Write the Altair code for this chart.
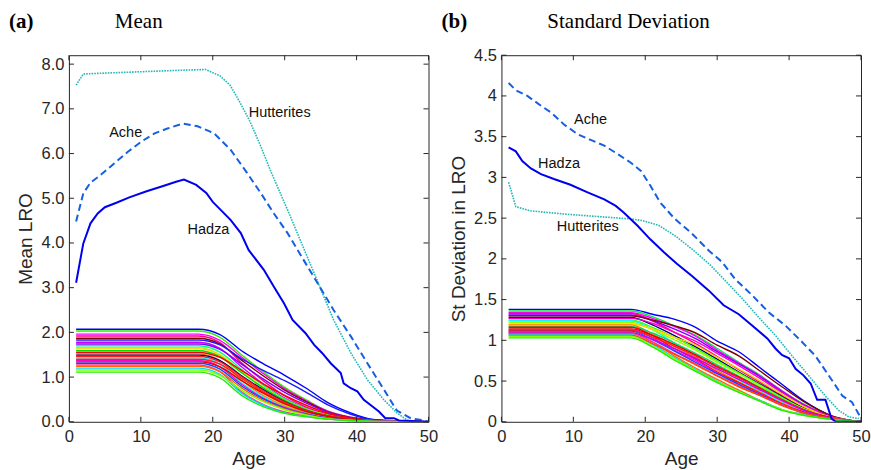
import altair as alt
import pandas as pd

# ---------------- data ----------------
X_TICKS = [0, 10, 20, 30, 40, 50]
MEAN_Y_TICKS = [0, 1, 2, 3, 4, 5, 6, 7, 8]
SD_Y_TICKS = [0, 0.5, 1, 1.5, 2, 2.5, 3, 3.5, 4, 4.5]

# simulated populations (coloured band), values at these ages
AGES_BAND = [1, 18, 21, 24, 27, 30, 33, 36, 39, 42, 46, 50]

MEAN_BAND = [
    [2.07, 2.07, 1.95, 1.59, 1.30, 1.04, 0.75, 0.43, 0.21, 0.06, 0.02, 0],
    [2.03, 2.03, 1.89, 1.50, 1.12, 0.77, 0.49, 0.24, 0.11, 0.04, 0.01, 0],
    [1.96, 1.96, 1.82, 1.45, 1.08, 0.74, 0.47, 0.24, 0.11, 0.04, 0.01, 0],
    [1.92, 1.92, 1.77, 1.32, 0.92, 0.58, 0.33, 0.17, 0.08, 0.03, 0.01, 0],
    [1.87, 1.87, 1.74, 1.38, 1.03, 0.71, 0.45, 0.22, 0.10, 0.04, 0.01, 0],
    [1.83, 1.83, 1.72, 1.41, 1.15, 0.92, 0.66, 0.38, 0.18, 0.05, 0.01, 0],
    [1.78, 1.78, 1.64, 1.23, 0.85, 0.53, 0.30, 0.16, 0.07, 0.03, 0.01, 0],
    [1.74, 1.74, 1.62, 1.29, 0.96, 0.66, 0.42, 0.21, 0.10, 0.03, 0.01, 0],
    [1.70, 1.70, 1.56, 1.17, 0.82, 0.51, 0.29, 0.15, 0.07, 0.03, 0.01, 0],
    [1.66, 1.66, 1.49, 1.01, 0.65, 0.38, 0.22, 0.10, 0.05, 0.02, 0.005, 0],
    [1.63, 1.63, 1.50, 1.12, 0.78, 0.49, 0.28, 0.15, 0.07, 0.02, 0.01, 0],
    [1.59, 1.59, 1.46, 1.10, 0.76, 0.48, 0.27, 0.14, 0.06, 0.02, 0.01, 0],
    [1.55, 1.55, 1.44, 1.15, 0.85, 0.59, 0.37, 0.19, 0.09, 0.03, 0.01, 0],
    [1.52, 1.52, 1.37, 0.93, 0.59, 0.35, 0.20, 0.09, 0.05, 0.02, 0.005, 0],
    [1.49, 1.49, 1.37, 1.03, 0.72, 0.45, 0.25, 0.13, 0.06, 0.02, 0.01, 0],
    [1.46, 1.46, 1.34, 1.01, 0.70, 0.44, 0.25, 0.13, 0.06, 0.02, 0.01, 0],
    [1.43, 1.43, 1.29, 0.87, 0.56, 0.33, 0.19, 0.09, 0.04, 0.01, 0.004, 0],
    [1.40, 1.40, 1.29, 0.97, 0.67, 0.42, 0.24, 0.13, 0.06, 0.02, 0.01, 0],
    [1.37, 1.37, 1.23, 0.84, 0.53, 0.32, 0.18, 0.08, 0.04, 0.01, 0.004, 0],
    [1.34, 1.34, 1.23, 0.92, 0.64, 0.40, 0.23, 0.12, 0.05, 0.02, 0.01, 0],
    [1.31, 1.31, 1.18, 0.80, 0.51, 0.30, 0.17, 0.08, 0.04, 0.01, 0.004, 0],
    [1.27, 1.27, 1.12, 0.67, 0.39, 0.22, 0.13, 0.06, 0.03, 0.01, 0.004, 0],
    [1.24, 1.24, 1.12, 0.76, 0.48, 0.29, 0.16, 0.07, 0.04, 0.01, 0.004, 0],
    [1.20, 1.20, 1.06, 0.64, 0.37, 0.20, 0.12, 0.06, 0.03, 0.01, 0.004, 0],
    [1.16, 1.16, 1.04, 0.71, 0.45, 0.27, 0.15, 0.07, 0.03, 0.01, 0.003, 0],
    [1.11, 1.11, 0.98, 0.59, 0.34, 0.19, 0.11, 0.06, 0.03, 0.01, 0.003, 0],
]
MEAN_BAND_COLORS = [
    "#0000ff", "#33ee00", "#ff00ff", "#ff0080", "#800000", "#1a1aff", "#cc00ff",
    "#8000ff", "#00ff80", "#99ff00", "#ffd000", "#00e000", "#ff0000", "#ff8000",
    "#000080", "#ff1a1a", "#00ffff", "#ff2020", "#ff00cc", "#e60000", "#0050ff",
    "#ff3399", "#ff6600", "#00d8ff", "#80ff00", "#22ee00",
]

SD_BAND = [
    [1.38, 1.38, 1.32, 1.26, 1.16, 0.99, 0.86, 0.66, 0.46, 0.26, 0.07, 0],
    [1.36, 1.36, 1.29, 1.18, 1.06, 0.90, 0.73, 0.57, 0.38, 0.22, 0.06, 0],
    [1.34, 1.34, 1.27, 1.17, 1.05, 0.88, 0.72, 0.56, 0.38, 0.21, 0.06, 0],
    [1.33, 1.33, 1.24, 1.10, 0.96, 0.80, 0.64, 0.48, 0.32, 0.17, 0.05, 0],
    [1.31, 1.31, 1.24, 1.14, 1.02, 0.86, 0.71, 0.55, 0.37, 0.21, 0.06, 0],
    [1.30, 1.30, 1.25, 1.18, 1.09, 0.94, 0.81, 0.62, 0.43, 0.25, 0.07, 0],
    [1.28, 1.28, 1.19, 1.06, 0.92, 0.77, 0.61, 0.46, 0.31, 0.17, 0.05, 0],
    [1.27, 1.27, 1.21, 1.10, 0.99, 0.84, 0.69, 0.53, 0.36, 0.20, 0.06, 0],
    [1.25, 1.25, 1.16, 1.04, 0.90, 0.75, 0.60, 0.45, 0.30, 0.16, 0.05, 0],
    [1.24, 1.24, 1.13, 0.97, 0.82, 0.66, 0.51, 0.37, 0.24, 0.12, 0.04, 0],
    [1.22, 1.22, 1.13, 1.01, 0.88, 0.73, 0.59, 0.44, 0.29, 0.16, 0.05, 0],
    [1.20, 1.20, 1.14, 1.04, 0.94, 0.79, 0.65, 0.50, 0.34, 0.19, 0.05, 0],
    [1.19, 1.19, 1.08, 0.93, 0.79, 0.63, 0.49, 0.36, 0.23, 0.12, 0.04, 0],
    [1.17, 1.17, 1.09, 0.97, 0.84, 0.70, 0.56, 0.42, 0.28, 0.15, 0.05, 0],
    [1.16, 1.16, 1.06, 0.90, 0.77, 0.61, 0.48, 0.35, 0.22, 0.12, 0.04, 0],
    [1.14, 1.14, 1.06, 0.95, 0.82, 0.68, 0.55, 0.41, 0.27, 0.15, 0.05, 0],
    [1.13, 1.13, 1.03, 0.88, 0.75, 0.60, 0.46, 0.34, 0.21, 0.11, 0.04, 0],
    [1.12, 1.12, 1.04, 0.93, 0.81, 0.67, 0.54, 0.40, 0.27, 0.15, 0.04, 0],
    [1.11, 1.11, 1.01, 0.87, 0.73, 0.59, 0.46, 0.33, 0.21, 0.11, 0.04, 0],
    [1.10, 1.10, 0.98, 0.81, 0.66, 0.52, 0.39, 0.26, 0.15, 0.09, 0.03, 0],
    [1.09, 1.09, 1.01, 0.90, 0.78, 0.65, 0.52, 0.39, 0.26, 0.14, 0.04, 0],
    [1.08, 1.08, 0.98, 0.84, 0.71, 0.57, 0.44, 0.32, 0.21, 0.11, 0.04, 0],
    [1.07, 1.07, 0.95, 0.79, 0.64, 0.50, 0.37, 0.26, 0.15, 0.09, 0.03, 0],
    [1.06, 1.06, 0.96, 0.83, 0.70, 0.56, 0.43, 0.32, 0.20, 0.11, 0.04, 0],
    [1.05, 1.05, 0.93, 0.78, 0.63, 0.49, 0.37, 0.25, 0.15, 0.08, 0.03, 0],
    [1.03, 1.03, 0.92, 0.76, 0.62, 0.48, 0.36, 0.25, 0.14, 0.08, 0.03, 0],
]
SD_BAND_COLORS = [
    "#0000ff", "#00ee44", "#ff00ff", "#ff0080", "#8000ff", "#800000", "#000080",
    "#ff00cc", "#33ff00", "#00ffff", "#99ff00", "#ffd000", "#ff8000", "#00dd66",
    "#ff0000", "#e60000", "#ff00ff", "#ff1a1a", "#0050ff", "#ff6600", "#cc00ff",
    "#ff3399", "#00d8ff", "#ff4400", "#80ff00", "#22ee00",
]

# observed populations - mean LRO
MEAN_HUTT_AGE = [1, 2, 5, 10, 15, 19, 21, 22.4, 23.8, 25.2, 26.7, 28, 29.4, 30.8, 32.2,
                 34.5, 36.8, 39.2, 41.5, 43.8, 45.6, 47, 48, 50]
MEAN_HUTT = [7.53, 7.78, 7.80, 7.83, 7.86, 7.88, 7.74, 7.53, 7.14, 6.71, 6.15, 5.63, 5.11,
             4.59, 4.05, 3.17, 2.28, 1.54, 0.94, 0.49, 0.20, 0.04, 0.0, 0.0]
MEAN_ACHE_AGE = [1, 2, 3, 4.4, 6.3, 8.2, 10, 11.9, 13.7, 15.8, 17.9, 20.2, 22.5, 24.8, 26.7,
                 28.5, 30.4, 33.6, 34.5, 36.8, 39.2, 41.5, 43.8, 45.6, 47.5, 49.4, 50]
MEAN_ACHE = [4.48, 5.11, 5.35, 5.52, 5.78, 6.04, 6.26, 6.45, 6.56, 6.67, 6.61, 6.45, 6.08,
             5.56, 5.11, 4.66, 4.22, 3.36, 3.12, 2.50, 1.91, 1.31, 0.72, 0.25, 0.08, 0.03, 0.0]
MEAN_HADZA_AGE = [1, 2, 3, 4, 5, 6.6, 8.4, 10.7, 13, 14.9, 16, 17.7, 19.1, 20, 21.1, 22.5,
                  23.9, 25, 27.1, 28.5, 29.9, 31.1, 32.9, 34.1, 35.2, 36.4, 37.8, 38.2,
                  39.2, 40.1, 41, 41.9, 43.1, 44, 45.2, 45.9, 50]
MEAN_HADZA = [3.11, 3.99, 4.44, 4.66, 4.80, 4.90, 5.02, 5.15, 5.27, 5.37, 5.42, 5.30, 5.12,
              4.92, 4.74, 4.51, 4.22, 3.84, 3.40, 3.02, 2.65, 2.28, 1.98, 1.72, 1.54, 1.31,
              1.09, 0.86, 0.75, 0.68, 0.49, 0.38, 0.23, 0.08, 0.08, 0.03, 0.0]

# observed populations - standard deviation of LRO
SD_HUTT_AGE = [1, 2, 4, 8.7, 13.3, 18, 19.6, 21.9, 24.2, 26.5, 28.85, 31.15, 33.5, 35.8,
               38.1, 40.4, 42.7, 45, 46.9, 48.3, 49.7]
SD_HUTT = [2.94, 2.64, 2.59, 2.55, 2.52, 2.49, 2.47, 2.41, 2.28, 2.12, 1.94, 1.73, 1.51,
           1.28, 1.06, 0.81, 0.57, 0.32, 0.14, 0.06, 0.04]
SD_ACHE_AGE = [1, 2, 3.6, 5.5, 7, 8.7, 10.6, 12.4, 14.3, 16.1, 18, 19.4, 20.7, 22.1, 24,
               26.5, 28.85, 30.7, 32.5, 34.9, 37.2, 39.5, 41.8, 43.65, 45.5, 47.4, 48.75, 49.9]
SD_ACHE = [4.16, 4.07, 4.00, 3.88, 3.79, 3.65, 3.53, 3.46, 3.39, 3.29, 3.18, 3.08, 2.90,
           2.69, 2.50, 2.31, 2.10, 1.96, 1.75, 1.55, 1.34, 1.18, 0.98, 0.81, 0.57, 0.32,
           0.24, 0.06]
SD_HADZA_AGE = [1, 2, 2.9, 4.1, 5.5, 7.3, 9.6, 11.9, 14.3, 15.9, 17, 18.9, 20.7, 22.6, 24.4,
                26.5, 28.85, 30.9, 33, 34.9, 37, 38.1, 39, 40, 40.9, 42, 43, 43.9, 45.05,
                45.9, 46.5, 50]
SD_HADZA = [3.37, 3.32, 3.20, 3.11, 3.04, 2.98, 2.91, 2.82, 2.73, 2.65, 2.57, 2.41, 2.24,
            2.08, 1.94, 1.79, 1.61, 1.43, 1.32, 1.18, 1.02, 0.90, 0.82, 0.78, 0.65, 0.57,
            0.47, 0.27, 0.27, 0.04, 0.0, 0.0]

# population labels
MEAN_LABELS = ["Hutterites", "Ache", "Hadza"]
MEAN_LABEL_AGE = [25.0, 5.6, 16.5]
MEAN_LABEL_VAL = [6.91, 6.46, 4.30]
SD_LABELS = ["Ache", "Hadza", "Hutterites"]
SD_LABEL_AGE = [10.1, 5.1, 7.7]
SD_LABEL_VAL = [3.70, 3.17, 2.39]

# ---------------- chart ----------------
W, H = 360, 367
TXT = "#262626"
SANS = "Liberation Sans"
SERIF = "Liberation Serif"


def band_frame(rows, colors):
    recs = []
    for i, (vals, col) in enumerate(zip(rows, colors)):
        for a, v in zip(AGES_BAND, vals):
            recs.append({"id": i, "age": a, "v": v, "c": col})
    return pd.DataFrame(recs)


def panel(band_rows, band_colors, hutt, ache, hadza, labels, y_domain, y_ticks, y_fmt,
          y_title, tag, title):
    x = alt.X("age:Q", scale=alt.Scale(domain=[0, 50], nice=False, zero=False),
              axis=alt.Axis(values=X_TICKS, title="Age", labelPadding=7, titlePadding=4.5,
                            labelFlush=False))
    y = alt.Y("v:Q", scale=alt.Scale(domain=y_domain, nice=False, zero=False),
              axis=alt.Axis(values=y_ticks, format=y_fmt, title=y_title, labelPadding=5,
                            minExtent=28, maxExtent=28, titlePadding=5, labelFlush=False))

    band = alt.Chart(band_frame(band_rows, band_colors)).mark_line(
        strokeWidth=1.4, interpolate="monotone", clip=True
    ).encode(x=x, y=y, detail="id:N", color=alt.Color("c:N", scale=None), order="age:Q")

    def obs(ages, vals, **kw):
        return alt.Chart(pd.DataFrame({"age": ages, "v": vals})).mark_line(
            clip=True, **kw).encode(x=x, y=y, order="age:Q")

    l_hutt = obs(*hutt, color="#22b8b8", strokeWidth=1.6, strokeDash=[1.6, 1.1])
    l_ache = obs(*ache, color="#1560e0", strokeWidth=2, strokeDash=[7, 4])
    l_hadza = obs(*hadza, color="#0000f0", strokeWidth=2)

    lab = alt.Chart(pd.DataFrame({"age": labels[1], "v": labels[2], "t": labels[0]})).mark_text(
        font=SANS, fontSize=14.5, align="left", baseline="middle", color="#111111"
    ).encode(x=x, y=y, text="t:N")

    xt = pd.DataFrame({"age": X_TICKS})
    yt = pd.DataFrame({"v": y_ticks})
    rule = dict(color=TXT, strokeWidth=1)
    t_bottom = alt.Chart(xt).mark_rule(**rule).encode(x=x, y=alt.value(H), y2=alt.value(H - 5))
    t_top = alt.Chart(xt).mark_rule(**rule).encode(x=x, y=alt.value(0), y2=alt.value(5))
    t_left = alt.Chart(yt).mark_rule(**rule).encode(y=y, x=alt.value(0), x2=alt.value(5))
    t_right = alt.Chart(yt).mark_rule(**rule).encode(y=y, x=alt.value(W), x2=alt.value(W - 5))

    tag_t = alt.Chart(pd.DataFrame({"t": [tag]})).mark_text(
        font=SERIF, fontSize=21, fontWeight="bold", align="left", baseline="alphabetic",
        color="black"
    ).encode(x=alt.value(-60), y=alt.value(-27.5), text="t:N")
    title_t = alt.Chart(pd.DataFrame({"t": [title]})).mark_text(
        font=SERIF, fontSize=21, align="left", baseline="alphabetic", color="black"
    ).encode(x=alt.value(46), y=alt.value(-27.5), text="t:N")

    return alt.layer(band, l_hutt, l_ache, l_hadza, lab, t_bottom, t_top, t_left, t_right,
                     tag_t, title_t).properties(width=W, height=H)


left = panel(MEAN_BAND, MEAN_BAND_COLORS, (MEAN_HUTT_AGE, MEAN_HUTT),
             (MEAN_ACHE_AGE, MEAN_ACHE), (MEAN_HADZA_AGE, MEAN_HADZA),
             (MEAN_LABELS, MEAN_LABEL_AGE, MEAN_LABEL_VAL), [0, 8.2], MEAN_Y_TICKS, ".1f",
             "Mean LRO", "(a)", "Mean")
right = panel(SD_BAND, SD_BAND_COLORS, (SD_HUTT_AGE, SD_HUTT), (SD_ACHE_AGE, SD_ACHE),
              (SD_HADZA_AGE, SD_HADZA), (SD_LABELS, SD_LABEL_AGE, SD_LABEL_VAL),
              [0, 4.5], SD_Y_TICKS, "~g", "St Deviation in LRO", "(b)", "Standard Deviation")

chart = alt.hconcat(left, right, spacing=2).properties(
    padding={"left": 8, "top": 10, "right": 0, "bottom": 0}, background="white"
).configure_view(stroke=TXT, strokeWidth=1).configure_axis(
    domain=False, ticks=False, tickSize=0, grid=False,
    labelFont=SANS, labelFontSize=16.5, labelColor=TXT,
    titleFont=SANS, titleFontSize=19, titleColor=TXT, titleFontWeight="normal",
)

chart.save("out.html", embed_options={"renderer": "svg", "actions": False})
